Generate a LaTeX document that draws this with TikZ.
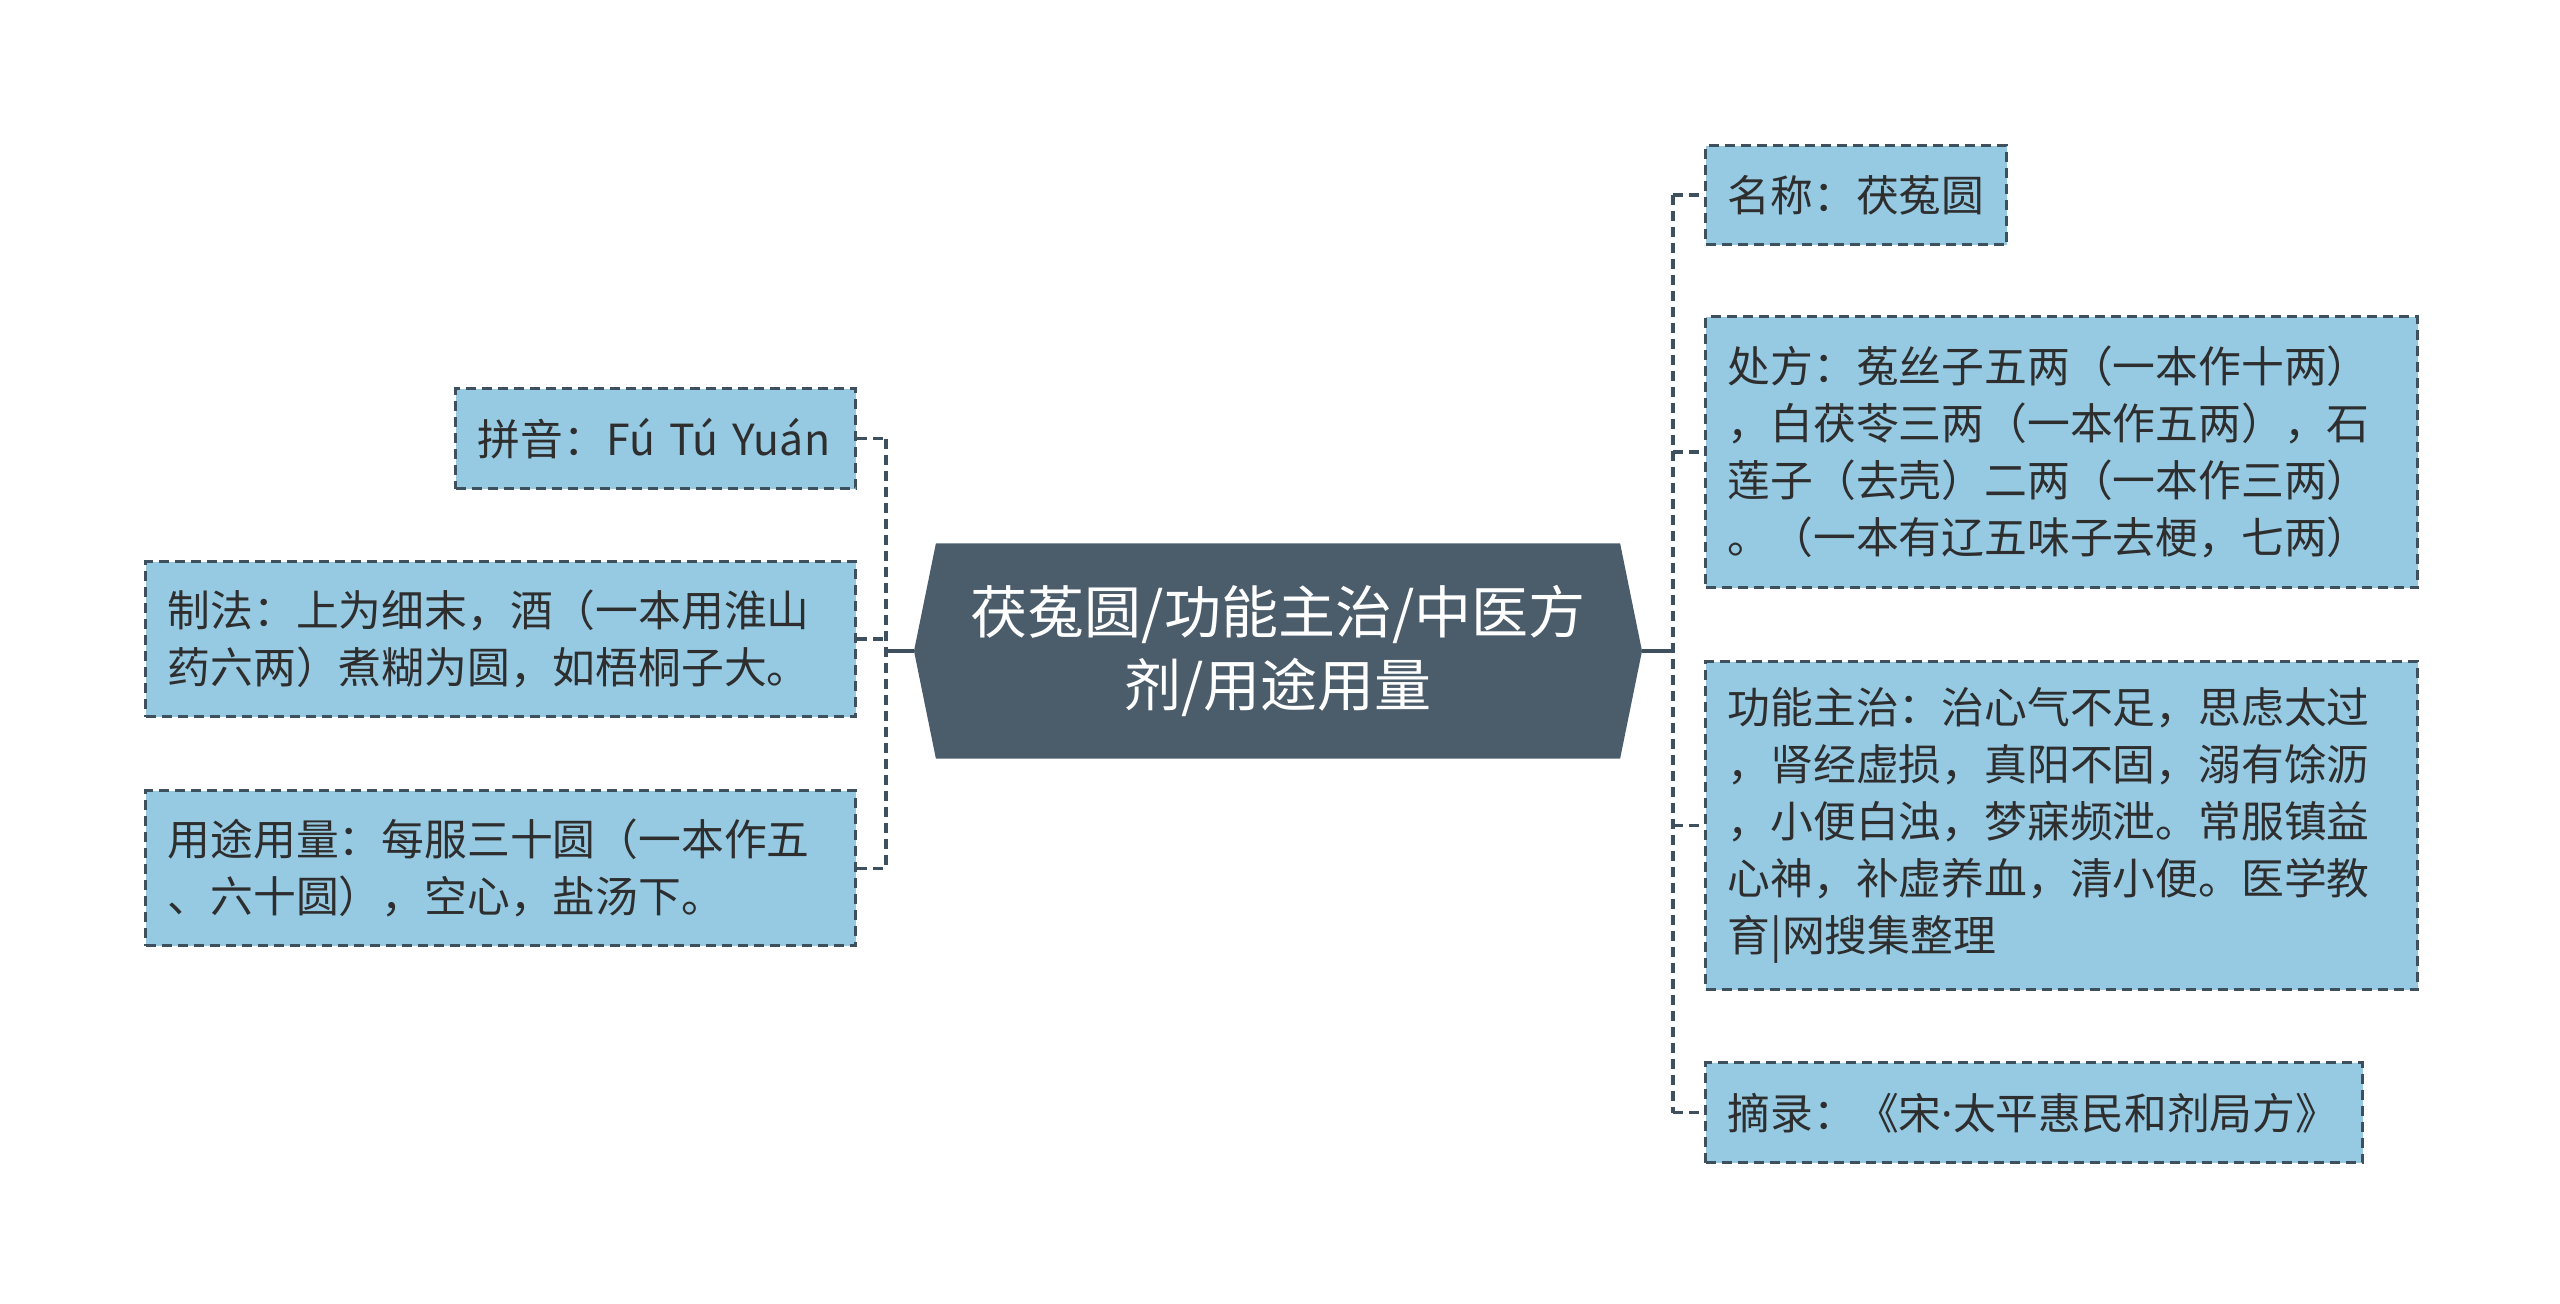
\documentclass[tikz,border=0pt]{standalone}
\usepackage{fontspec}
\setmainfont{Noto Sans CJK SC}
\newfontfamily\latinfont{Noto Sans}
\usepackage{xcolor}
\usepackage{tikz}
\usetikzlibrary{shapes,positioning,calc}

\definecolor{boxfill}{HTML}{96CAE3}
\definecolor{lineclr}{HTML}{3E4F5E}
\definecolor{hubfill}{HTML}{4B5C6B}
\definecolor{textclr}{HTML}{2E2E2E}

\begin{document}
\begin{tikzpicture}[
    x=0.5pt, y=-0.5pt,
    infobox/.style={rectangle, draw=lineclr, fill=boxfill, line width=1.7pt, dash pattern=on 5pt off 3pt,
        inner xsep=11pt, inner ysep=0pt, align=left, text=textclr,
        font=\fontsize{21.4pt}{28.5pt}\selectfont},
    hub/.style={signal, signal to=west and east, signal pointer angle=157, fill=hubfill, draw=none,
        minimum width=364pt, minimum height=107.5pt, align=center, text=white,
        font=\fontsize{28.5pt}{36.7pt}\selectfont},
    link/.style={draw=lineclr, line width=1.7pt, dash pattern=on 5pt off 3pt},
    trunk/.style={draw=lineclr, line width=1.7pt}
]
\useasboundingbox (0,0) rectangle (2560,1304);

% central topic
\node[hub] (center) at (1278,651) {茯菟圆/功能主治/中医方\\剂/用途用量};

% left branches
\node[infobox, anchor=north west, text width=178pt, minimum height=50pt] (pinyin) at (454,387) {拼音：Fú Tú Yuán};
\node[infobox, anchor=north west, text width=333pt, minimum height=77.5pt] (zhifa) at (144,560) {制法：上为细末，酒（一本用淮山\\药六两）煮糊为圆，如梧桐子大。};
\node[infobox, anchor=north west, text width=333pt, minimum height=77.5pt] (yongtu) at (144,789) {用途用量：每服三十圆（一本作五\\、六十圆），空心，盐汤下。};

% right branches
\node[infobox, anchor=north west, text width=128.5pt, minimum height=49.5pt] (mingcheng) at (1704,144) {名称：茯菟圆};
\node[infobox, anchor=north west, text width=334pt, minimum height=135.5pt] (chufang) at (1704,315) {处方：菟丝子五两（一本作十两）\\，白茯苓三两（一本作五两），石\\莲子（去壳）二两（一本作三两）\\。（一本有辽五味子去梗，七两）};
\node[infobox, anchor=north west, text width=334pt, minimum height=164pt] (gongneng) at (1704,660) {功能主治：治心气不足，思虑太过\\，肾经虚损，真阳不固，溺有馀沥\\，小便白浊，梦寐频泄。常服镇益\\心神，补虚养血，清小便。医学教\\育|网搜集整理};
\node[infobox, anchor=north west, text width=306.5pt, minimum height=50pt] (zhailu) at (1704,1061) {摘录：《宋{\latinfont ·}太平惠民和剂局方》};

% hubs of the two trees
\coordinate (lhub) at (886,651);
\coordinate (rhub) at (1673,651);

% left connectors
\draw[trunk] (center.west) -- (lhub);
\draw[link] (lhub |- pinyin.east) -- (lhub |- yongtu.east);
\draw[link] (pinyin.east) -- (lhub |- pinyin.east);
\draw[link] (zhifa.east) -- (lhub |- zhifa.east);
\draw[link] (yongtu.east) -- (lhub |- yongtu.east);

% right connectors
\draw[trunk] (center.east) -- (rhub);
\draw[link] (rhub |- mingcheng.west) -- (rhub |- zhailu.west);
\draw[link] (rhub |- mingcheng.west) -- (mingcheng.west);
\draw[link] (rhub |- chufang.west) -- (chufang.west);
\draw[link] (rhub |- gongneng.west) -- (gongneng.west);
\draw[link] (rhub |- zhailu.west) -- (zhailu.west);

\end{tikzpicture}
\end{document}
